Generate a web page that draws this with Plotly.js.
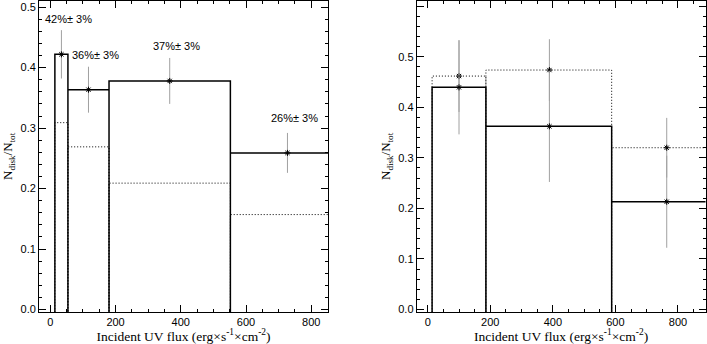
<!DOCTYPE html>
<html>
<head>
<meta charset="utf-8">
<script src="https://cdn.plot.ly/plotly-3.0.1.min.js"></script>
<style>body{margin:0;background:#fff}</style>
</head>
<body>
<div id="plot" style="width:707px;height:344px"></div>
<script>
// left panel: bin edges, disk fractions (solid), other sample (dotted)
const leftEdges = [14, 54, 180, 552, 1000];
const leftFrac = [0.422, 0.3635, 0.378, 0.259];
const leftErr = [0.04, 0.038, 0.038, 0.033];
const leftDotted = [0.309, 0.269, 0.209, 0.157];
const leftPts = [34, 117, 366, 727];
const leftPct = [42, 36, 37, 26];
const leftPctErr = [3, 3, 3, 3];

// right panel
const rightEdges = [14, 186, 588, 1000];
const rightFrac = [0.4393, 0.3622, 0.2131];
const rightErr = [0.093, 0.11, 0.091];
const rightDotted = [0.4616, 0.4735, 0.3199];
const rightDottedErr = [0.071, 0.061, 0.059];
const rightPts = [100, 389, 764];

const leftRange = [-0.0046, 0.511];
const rightRange = [-0.0055, 0.611];

// outline of the histogram, verticals dropped to the axis floor
function boxPath(edges, vals, floor) {
  const x = [], y = [];
  vals.forEach((v, i) => {
    x.push(edges[i], edges[i], edges[i+1], edges[i+1]);
    y.push(floor, v, v, floor);
  });
  return {x: x, y: y};
}

function histTrace(edges, vals, floor, xa, ya, dash, w) {
  const p = boxPath(edges, vals, floor);
  return {
    type: 'scatter', mode: 'lines', x: p.x, y: p.y, xaxis: xa, yaxis: ya,
    line: {color: 'black', width: w, dash: dash}, hoverinfo: 'skip'
  };
}

function pointTrace(xs, ys, errs, xa, ya) {
  return {
    type: 'scatter', mode: 'markers', x: xs, y: ys, xaxis: xa, yaxis: ya,
    error_y: {type: 'data', array: errs, visible: true, color: '#a0a0a0', thickness: 1, width: 0},
    marker: {symbol: 'asterisk-open', size: 5, color: 'black', line: {color: 'black', width: 1}}
  };
}

const data = [
  histTrace(leftEdges, leftDotted, leftRange[0], 'x', 'y', '1px,2px', 1),
  histTrace(leftEdges, leftFrac, leftRange[0], 'x', 'y', 'solid', 1.5),
  pointTrace(leftPts, leftFrac, leftErr, 'x', 'y'),
  histTrace(rightEdges, rightDotted, rightRange[0], 'x2', 'y2', '1px,2px', 1),
  histTrace(rightEdges, rightFrac, rightRange[0], 'x2', 'y2', 'solid', 1.5),
  pointTrace(rightPts, rightDotted, rightDottedErr, 'x2', 'y2'),
  pointTrace(rightPts, rightFrac, rightErr, 'x2', 'y2')
];

const sans = 'Liberation Sans, Arial, sans-serif';
const serif = 'Liberation Serif, Times New Roman, serif';

function axis(extra) {
  return Object.assign({
    showline: true, linecolor: 'black', linewidth: 1, mirror: 'ticks',
    ticks: 'inside', ticklen: 7, tickwidth: 1, tickcolor: 'black',
    showgrid: false, zeroline: false, automargin: false,
    tickfont: {family: sans, size: 11, color: 'black'}
  }, extra);
}

const xTitle = 'Incident UV flux (erg\u00d7s<sup>-1</sup>\u00d7cm<sup>-2</sup>)';
const yTitle = 'N<sub>disk</sub>/N<sub>tot</sub>';

const annotations = leftPct.map((p, i) => ({
  x: leftPts[i], y: leftFrac[i], xref: 'x', yref: 'y',
  text: p + '%\u00b1 ' + leftPctErr[i] + '%', showarrow: false,
  xanchor: 'center', yanchor: 'middle', xshift: 7, yshift: 35,
  font: {family: sans, size: 11, color: 'black'}
}));

const layout = {
  width: 707, height: 344,
  margin: {l: 0, r: 0, t: 0, b: 0},
  paper_bgcolor: 'white', plot_bgcolor: 'white',
  showlegend: false,
  xaxis: axis({domain: [0.0552, 0.4639], range: [-34.6, 851.2], dtick: 200, tick0: 0,
    minor: {dtick: 50, ticklen: 3, ticks: 'inside', tickcolor: 'black'},
    title: {text: xTitle, font: {family: serif, size: 13.5, color: 'black'}, standoff: 6}}),
  yaxis: axis({domain: [0.0922, 0.9985], range: leftRange, dtick: 0.1, tick0: 0, tickformat: '.1f',
    minor: {dtick: 0.02, ticklen: 3, ticks: 'inside', tickcolor: 'black'},
    title: {text: yTitle, font: {family: serif, size: 13, color: 'black'}, standoff: 4}}),
  xaxis2: axis({domain: [0.5894, 0.9979], range: [-35.2, 888], dtick: 200, tick0: 0, anchor: 'y2',
    minor: {dtick: 50, ticklen: 3, ticks: 'inside', tickcolor: 'black'},
    title: {text: xTitle, font: {family: serif, size: 13.5, color: 'black'}, standoff: 6}}),
  yaxis2: axis({domain: [0.0922, 0.9985], range: rightRange, dtick: 0.1, tick0: 0, tickformat: '.1f', anchor: 'x2',
    minor: {dtick: 0.02, ticklen: 3, ticks: 'inside', tickcolor: 'black'},
    title: {text: yTitle, font: {family: serif, size: 13, color: 'black'}, standoff: 4}}),
  annotations: annotations
};

Plotly.newPlot('plot', data, layout, {displayModeBar: false});
</script>
</body>
</html>
